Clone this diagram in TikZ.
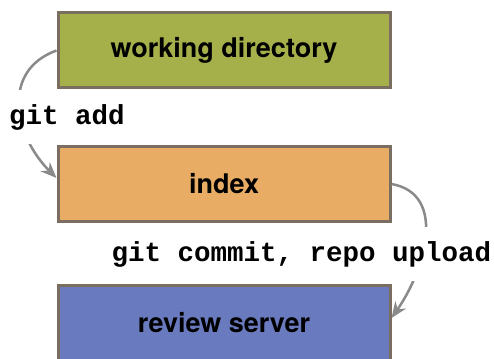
\documentclass[tikz,border=0pt]{standalone}
\usepackage{fontspec}
\setsansfont{TeX Gyre Heros}
\setmonofont{Liberation Mono}
\usetikzlibrary{arrows.meta}

\definecolor{wdgreen}{RGB}{166,176,74}
\definecolor{idxorange}{RGB}{232,172,100}
\definecolor{srvblue}{RGB}{106,122,190}
\definecolor{boxedge}{RGB}{122,110,96}
\definecolor{arcgray}{RGB}{138,138,138}

\begin{document}
\begin{tikzpicture}[x=1pt, y=-1pt, arrows={-Stealth[length=16pt,width=13pt]},
	box/.style={draw=boxedge, line width=3pt, minimum width=332pt, minimum height=75pt,
		font=\sffamily\bfseries\fontsize{27}{30}\selectfont},
	cmd/.style={fill=white, inner xsep=2pt, inner ysep=14pt,
		font=\ttfamily\bfseries\fontsize{27.5}{30}\selectfont}]
	\useasboundingbox (0,0) rectangle (494,358);

	\node [box, fill=wdgreen] (WD) at (224,50.5) {working directory};
	\node [box, fill=idxorange] (IDX) at (224,184) {index};
	\node [box, fill=srvblue] (RS) at (224,323) {review server};

	\draw [arcgray, line width=2.5pt] (WD.west) to [out=200, in=135, looseness=1.2] ([yshift=6pt]IDX.west);
	\draw [arcgray, line width=2.5pt] (IDX.east) to [out=-10, in=55, looseness=1.1] ([yshift=5pt]RS.east);

	\node [cmd] (ADD) at (67,117) {git add};
	\node [cmd] (UP) at (301.5,254) {git commit, repo upload};
\end{tikzpicture}
\end{document}
